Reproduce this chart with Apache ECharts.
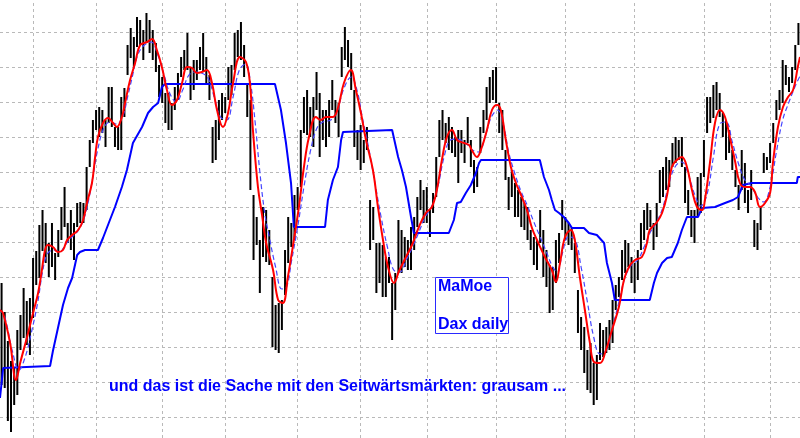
<!DOCTYPE html>
<html><head><meta charset="utf-8">
<script src="https://cdn.jsdelivr.net/npm/echarts@6/dist/echarts.min.js"></script>
<style>html,body{margin:0;padding:0;background:#fff}#c{width:800px;height:438px}</style>
</head><body><div id="c"></div>
<script>
// daily highs / lows (index points), bar index = trading day
const highs = [4159,4130,4101,4081,4074,4112,4127,4154,4141,4144,
4184,4191,4217,4232,4219,4199,4219,4189,4212,4235,
4255,4219,4232,4219,4239,4240,4239,4275,4302,4322,
4332,4335,4332,4322,4355,4355,4315,4315,4345,4354,
4397,4414,4405,4425,4422,4412,4429,4422,4412,4399,
4377,4365,4349,4349,4339,4355,4369,4385,4392,4409,
4375,4382,4382,4395,4409,4385,4367,4315,4322,4342,
4349,4345,4375,4377,4409,4412,4420,4397,4359,4342,
4247,4225,4202,4235,4232,4212,4165,4137,4139,4142,
4192,4225,4219,4247,4255,4312,4345,4352,4335,4345,
4370,4349,4332,4332,4342,4362,4342,4339,4395,4415,
4402,4389,4352,4312,4317,4302,4315,4242,4235,4199,
4199,4197,4185,4185,4159,4169,4222,4212,4205,4202,
4215,4225,4245,4262,4252,4255,4232,4249,4285,4322,
4332,4319,4325,4315,4305,4312,4312,4302,4325,4302,
4282,4275,4315,4332,4355,4365,4372,4375,4339,4332,
4292,4265,4272,4259,4252,4245,4239,4235,4212,4205,
4202,4232,4212,4192,4177,4175,4202,4209,4242,4225,
4219,4215,4199,4152,4125,4115,4092,4099,4079,4087,
4119,4112,4115,4122,4142,4157,4165,4192,4202,4199,
4185,4179,4192,4219,4232,4239,4232,4219,4239,4272,
4275,4285,4282,4299,4305,4302,4305,4275,4252,4232,
4232,4265,4269,4302,4345,4345,4357,4360,4349,4329,
4322,4312,4292,4272,4257,4292,4279,4252,4272,4222,
4219,4235,4289,4285,4299,4319,4342,4352,4382,4377,
4365,4375,4397,4419];
const lows = [4057,4054,4021,4010,4037,4047,4092,4104,4097,4087,
4124,4157,4164,4191,4179,4165,4175,4162,4185,4202,
4215,4199,4192,4182,4215,4219,4219,4232,4275,4299,
4312,4305,4309,4295,4319,4315,4295,4292,4292,4325,
4367,4384,4375,4395,4397,4382,4399,4389,4382,4370,
4345,4339,4319,4312,4312,4332,4342,4365,4372,4372,
4342,4352,4362,4372,4370,4357,4342,4279,4282,4302,
4322,4329,4342,4347,4372,4385,4382,4365,4325,4252,
4182,4197,4149,4185,4180,4177,4095,4092,4089,4112,
4147,4179,4195,4202,4232,4255,4309,4307,4305,4295,
4332,4285,4302,4295,4305,4332,4319,4305,4365,4382,
4375,4352,4295,4282,4272,4279,4292,4192,4202,4149,
4159,4145,4145,4159,4102,4132,4169,4169,4175,4172,
4172,4192,4215,4232,4219,4219,4205,4229,4245,4285,
4302,4299,4292,4289,4285,4259,4289,4279,4299,4275,
4249,4255,4289,4309,4322,4339,4342,4339,4309,4292,
4262,4232,4245,4225,4225,4215,4212,4202,4192,4177,
4172,4199,4165,4155,4129,4132,4159,4179,4212,4202,
4197,4192,4169,4109,4092,4069,4052,4049,4037,4042,
4082,4085,4089,4092,4099,4132,4145,4162,4169,4175,
4159,4149,4162,4192,4202,4212,4215,4192,4205,4239,
4245,4252,4255,4275,4279,4282,4275,4239,4227,4205,
4199,4225,4229,4265,4309,4319,4324,4332,4325,4305,
4282,4289,4272,4255,4232,4252,4239,4229,4242,4195,
4192,4212,4269,4272,4279,4299,4322,4332,4339,4357,
4350,4359,4372,4397];
// first trading day of each month (bar index)
const monthStarts = [10,30,51,71,94,114,135,157,179,201,223,244];
// horizontal grid levels (index points)
const gridLevels = [4025,4060,4095,4130,4165,4200,4235,4270,4305,4340,4375,4410];
// red smoothed average: [bar, value]
const redLine = [[-0.5,4132],[0.45,4129],[2.7,4099],[4.6,4062],[5.9,4079],[8.1,4105],[10,4129],[11.6,4149],[12.8,4172],[13.8,4192],[14.7,4197],[16.3,4195],[17.9,4190],[19.5,4192],[20.8,4202],[22.4,4207],[24.3,4212],[25.9,4222],[27.1,4239],[28.7,4259],[29.7,4285],[30.6,4305],[32.2,4319],[33.8,4324],[35.4,4319],[36.6,4315],[38.2,4325],[39.2,4339],[40.8,4362],[42.4,4379],[44,4397],[46.2,4400],[47.8,4403],[49.3,4392],[50.9,4375],[52.5,4352],[54.1,4337],[55.7,4342],[57.3,4359],[58.9,4375],[60.5,4374],[62,4369],[63.6,4370],[65.2,4372],[66.8,4359],[68.4,4332],[70.3,4315],[71.9,4329],[73.5,4359],[75.7,4385],[77.6,4380],[78.9,4357],[79.8,4312],[81.4,4255],[82.7,4227],[84,4199],[86.2,4172],[87.8,4142],[89.3,4139],[90.9,4165],[92.8,4202],[94.4,4235],[96,4275],[97.6,4305],[99.8,4325],[101.4,4322],[103,4325],[105.2,4325],[106.8,4334],[108.7,4359],[110.9,4372],[112.5,4352],[114.1,4329],[115.7,4302],[117.9,4272],[119.5,4235],[121.1,4202],[122.7,4175],[124.6,4159],[126.2,4171],[128.4,4185],[130.3,4197],[132.5,4215],[134.7,4229],[136.6,4235],[138.2,4252],[139.8,4282],[141.4,4305],[143,4312],[144.6,4302],[146.8,4299],[148.4,4297],[149.3,4292],[150.9,4285],[152.5,4295],[154.1,4312],[155.7,4332],[157.3,4337],[158.5,4332],[160.1,4302],[161.7,4275],[163.3,4259],[165.2,4245],[166.8,4232],[168.4,4214],[170,4202],[172.5,4185],[174.7,4172],[176,4160],[177.3,4179],[178.9,4205],[180.8,4212],[182,4202],[183.6,4165],[185.2,4132],[186.8,4099],[188.1,4080],[190,4079],[191.6,4089],[193.8,4112],[196,4135],[197.6,4162],[199.2,4175],[201.1,4182],[203.3,4185],[204.9,4199],[205.8,4212],[208.1,4220],[209.7,4229],[211.3,4247],[212.8,4275],[214.4,4282],[216,4285],[217.6,4275],[219.2,4252],[220.8,4235],[222.4,4232],[223.3,4242],[224.9,4279],[226.5,4319],[228.1,4332],[229.7,4325],[231.2,4305],[232.8,4282],[234.4,4259],[236,4255],[237.6,4255],[239.2,4250],[240.8,4235],[242.4,4239],[244,4249],[244.9,4279],[246.5,4315],[248.1,4335],[249.7,4345],[251.3,4352],[252.8,4375],[253.5,4385]];
// blue dashed slower average: [bar, value]
const dashLine = [[-0.5,4132],[1,4125],[3.5,4090],[5.5,4072],[7.5,4085],[9.5,4110],[11.5,4140],[13,4170],[14.5,4188],[16.5,4192],[18.5,4190],[20,4196],[22,4204],[24,4210],[26,4222],[27.5,4240],[29,4265],[30.5,4292],[32.5,4314],[34.5,4320],[36.5,4318],[38.5,4326],[40,4345],[41.5,4365],[43,4385],[45,4396],[47.5,4400],[49.5,4388],[51.5,4368],[53.5,4348],[55.5,4340],[57.5,4352],[59.5,4367],[61.5,4370],[63.5,4369],[65.5,4364],[67.5,4345],[69.5,4325],[71.5,4322],[73.5,4345],[75.5,4372],[77.5,4378],[79,4360],[80.5,4320],[82,4270],[83.5,4230],[85,4205],[87,4175],[89,4153],[90.5,4155],[92,4180],[94,4215],[96,4255],[98,4290],[100,4313],[102,4320],[104.5,4322],[106.5,4330],[108.5,4352],[111,4365],[113,4350],[114.5,4325],[116.5,4295],[118.5,4260],[120.5,4225],[122.5,4195],[124.5,4172],[126.5,4170],[128.5,4182],[130.5,4195],[132.5,4210],[134.5,4225],[136.5,4235],[138.5,4255],[140.5,4285],[142.5,4302],[144.5,4303],[147,4300],[149.5,4292],[151.5,4290],[153.5,4305],[155.5,4325],[157.5,4332],[159.5,4315],[161,4290],[163,4268],[165,4250],[167,4236],[169,4220],[171,4205],[173,4190],[175,4175],[176.5,4170],[178,4188],[180,4205],[182,4203],[184,4175],[186,4140],[188,4105],[190,4088],[192,4092],[194,4115],[196,4140],[198,4165],[200,4177],[202,4182],[204,4195],[206,4210],[208,4220],[210,4235],[212,4260],[214,4276],[216,4280],[218,4268],[220,4248],[222,4236],[224,4248],[226,4285],[228,4318],[230,4320],[232,4300],[234,4278],[236,4262],[238,4256],[240,4245],[242,4240],[244,4255],[246,4290],[248,4322],[250,4340],[252,4356],[253.5,4366]];
// blue step channel line: [bar, value]
const stepLine = [[-0.5,4044],[0.5,4074],[1,4076],[15.4,4076],[16.3,4091],[17.9,4114],[19.5,4137],[21.1,4154],[22.4,4164],[24,4187],[24.9,4190],[26.5,4192],[30.6,4192],[32.2,4204],[34.4,4222],[36,4235],[38.2,4255],[39.8,4272],[41.7,4299],[44.6,4315],[46.5,4329],[48.1,4335],[49.7,4339],[50.9,4355],[51.9,4358],[86.8,4358],[88.7,4332],[90.3,4299],[91.9,4259],[92.8,4215],[102.7,4215],[103.6,4242],[105.2,4262],[106.8,4275],[107.8,4302],[108.4,4310],[124,4312],[125.9,4285],[127.1,4272],[128.4,4255],[130,4225],[130.9,4209],[142,4209],[143.6,4222],[144.6,4239],[145.8,4240],[147.4,4249],[149,4257],[150.6,4269],[151.6,4279],[152.2,4282],[170.9,4282],[172.2,4265],[173.8,4252],[174.7,4242],[175.7,4232],[177,4229],[178.5,4225],[180.1,4219],[181.1,4214],[184.9,4214],[186.5,4209],[189,4207],[191.3,4199],[192.2,4179],[193.8,4159],[194.7,4142],[205.8,4142],[207.1,4159],[208.1,4169],[209.7,4179],[211.3,4184],[212.8,4185],[214.7,4199],[216,4212],[217.6,4225],[221.1,4225],[222.4,4234],[226.5,4235],[229.7,4239],[232.2,4242],[233.8,4245],[235.4,4257],[238.2,4259],[252.5,4259],[252.8,4265],[253.5,4265]];

const bars = highs.map((h, i) => [i, h, lows[i]]);
const font = '"Liberation Sans", Arial, sans-serif';
const gridStyle = { color: '#b9b9b9', width: 1, type: [3, 3] };

const chart = echarts.init(document.getElementById('c'), null, { renderer: 'canvas' });
chart.setOption({
  animation: false,
  backgroundColor: '#ffffff',
  grid: { left: 0, right: 0, top: 0, bottom: 0, containLabel: false },
  xAxis: { type: 'value', min: -0.5, max: 253.5,
    axisLine: { show: false }, axisTick: { show: false }, axisLabel: { show: false }, splitLine: { show: false } },
  yAxis: { type: 'value', min: 4004, max: 4442,
    axisLine: { show: false }, axisTick: { show: false }, axisLabel: { show: false },
    splitLine: { show: false } },
  series: [
    { type: 'line', data: [], silent: true, z: 1,
      markLine: { silent: true, symbol: ['none', 'none'], z: 1, label: { show: false },
        lineStyle: gridStyle, emphasis: { disabled: true },
        data: monthStarts.map(i => ({ xAxis: i })).concat(gridLevels.map(v => ({ yAxis: v }))) } },
    { type: 'custom', z: 2, silent: true,
      data: bars, encode: { x: 0, y: [1, 2] },
      renderItem: function (params, api) {
        const x = api.value(0);
        const p1 = api.coord([x, api.value(1)]);
        const p2 = api.coord([x, api.value(2)]);
        return { type: 'line', shape: { x1: p1[0], y1: p1[1], x2: p2[0], y2: p2[1] },
          style: { stroke: '#000000', lineWidth: 2 } };
      } },
    { type: 'line', data: stepLine, z: 3, silent: true, showSymbol: false, smooth: false,
      lineStyle: { color: '#0000ff', width: 2 } },
    { type: 'line', data: dashLine, z: 4, silent: true, showSymbol: false, smooth: 0.4,
      lineStyle: { color: '#4646ff', width: 1.2, type: [5, 3] } },
    { type: 'line', data: redLine, z: 5, silent: true, showSymbol: false, smooth: 0.4,
      lineStyle: { color: '#ff0000', width: 2 } }
  ],
  graphic: [
    { type: 'rect', z: 10, shape: { x: 435.5, y: 277.5, width: 73, height: 56 },
      style: { fill: '#ffffff', stroke: '#2a2aff', lineWidth: 1 } },
    { type: 'text', z: 11, x: 438, y: 279,
      style: { text: 'MaMoe', fill: '#0000ff', font: 'bold 16px ' + font, verticalAlign: 'top' } },
    { type: 'text', z: 11, x: 438, y: 317,
      style: { text: 'Dax daily', fill: '#0000ff', font: 'bold 16px ' + font, verticalAlign: 'top' } },
    { type: 'text', z: 11, x: 109, y: 379,
      style: { text: 'und das ist die Sache mit den Seitwärtsmärkten: grausam ...', fill: '#0000ff',
        font: 'bold 16px ' + font, verticalAlign: 'top' } }
  ]
});
</script>
</body></html>
